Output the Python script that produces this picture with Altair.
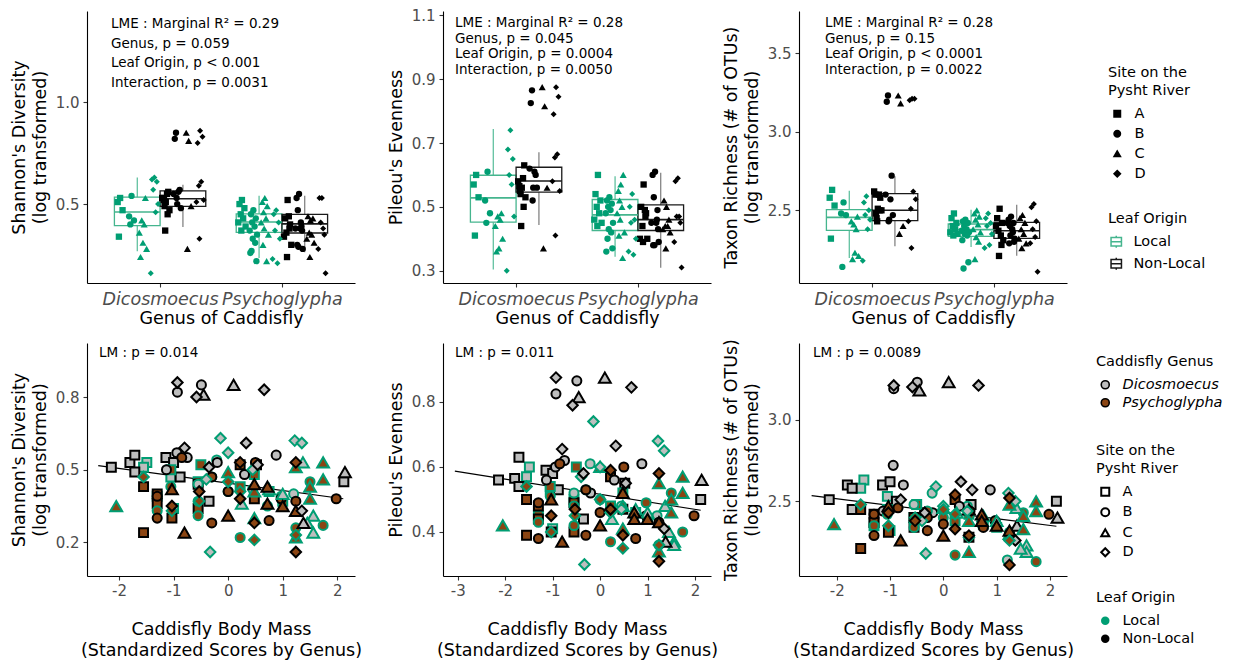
import altair as alt
import pandas as pd

FONT = "DejaVu Sans"

GENERA = ["Dicosmoecus", "Psychoglypha"]
ORIGINS = ["Local", "Non-Local"]
SITES = ["A", "B", "C", "D"]
SITE_SHAPES = ["square", "circle", "triangle-up", "diamond"]

POINT_COLORS = ["#009E73", "#000000"]
BOX_COLORS = ["#45B58E", "#1A1A1A"]
WHISKER_COLORS = ["#45B58E", "#6E6E6E"]
GENUS_FILLS = ["#BEBEBE", "#8B4513"]

# ---------------- samples (genus x leaf origin) ----------------
# Dicosmoecus, Local
DL_site = "AAAABBBBCCCCCCCDDDDDDD"
DL_mass = [-1.49, -1.55, -1.05, -1.00, -0.21, -0.55, 0.45, 1.20, 1.56, 1.56, 1.37, 0.75, 1.00, 0.25, 1.45,
           -0.14, 1.22, 1.35, 0.00, -0.40, -0.33, 0.45]
DL_shan = [0.53, 0.51, 0.47, 0.34, 0.54, 0.44, 0.42, 0.40, 0.31, 0.24, 0.53, 0.42, 0.40, 0.36, 0.28,
           0.63, 0.62, 0.61, 0.57, 0.46, 0.16, 0.50]
DL_even = [0.60, 0.57, 0.53, 0.41, 0.61, 0.52, 0.48, 0.45, 0.37, 0.36, 0.48, 0.47, 0.46, 0.44, 0.40,
           0.74, 0.68, 0.65, 0.60, 0.57, 0.30, 0.47]
DL_rich = [2.63, 2.58, 2.53, 2.32, 2.55, 2.48, 2.47, 2.14, 2.23, 2.19, 2.46, 2.41, 2.38, 2.43, 2.21,
           2.59, 2.55, 2.50, 2.47, 2.38, 2.18, 2.44]

# Dicosmoecus, Non-Local
DN_site = "AAAAAAAAAABBBBBBBBCCCCDDDDDDDD"
DN_mass = [-2.14, -1.80, -1.71, -1.71, -1.14, -1.00, -0.88, -0.35, 2.12, 0.52,
           -1.13, -0.93, -0.94, -0.49, 0.88, -0.75, 0.30, -0.20,
           -0.45, 0.10, 2.14, 1.38,
           -0.93, -0.58, 0.66, -0.80, 0.33, -0.35, 0.54, 1.35]
DN_shan = [0.51, 0.53, 0.56, 0.49, 0.55, 0.53, 0.47, 0.37, 0.45, 0.52,
           0.50, 0.82, 0.57, 0.85, 0.56, 0.55, 0.48, 0.53,
           0.81, 0.85, 0.49, 0.28,
           0.86, 0.80, 0.83, 0.59, 0.61, 0.51, 0.52, 0.33]
DN_even = [0.56, 0.565, 0.63, 0.54, 0.59, 0.58, 0.53, 0.44, 0.50, 0.55,
           0.56, 0.825, 0.60, 0.865, 0.61, 0.62, 0.56, 0.52,
           0.815, 0.875, 0.56, 0.37,
           0.875, 0.79, 0.845, 0.655, 0.665, 0.58, 0.55, 0.41]
DN_rich = [2.51, 2.60, 2.58, 2.45, 2.60, 2.62, 2.50, 2.43, 2.50, 2.48,
           2.44, 3.19, 2.72, 3.23, 2.57, 2.60, 2.47, 2.43,
           3.18, 3.23, 2.40, 2.35,
           3.21, 3.20, 3.21, 2.51, 2.62, 2.43, 2.57, 2.26]

# Psychoglypha, Local
PL_site = "AAAAAAAABBBBBBBBBBBBCCCCCCCCCCDDDDDDD"
PL_mass = [-0.50, -1.05, 0.48, -0.55, 0.22, 0.75, -1.30, 1.00,
           -0.30, 1.50, -1.05, 0.00, 0.97, -0.55, 0.72, -1.30, -0.55, 1.74, 0.22, 1.24,
           1.74, 1.24, 0.00, 1.74, 1.50, 0.48, -2.05, 1.50, 1.24, 0.48,
           -1.55, 0.00, 0.22, -0.53, 0.48, 1.24, -1.03]
PL_shan = [0.52, 0.50, 0.48, 0.45, 0.43, 0.41, 0.39, 0.37,
           0.47, 0.45, 0.43, 0.41, 0.39, 0.37, 0.35, 0.33, 0.31, 0.27, 0.22, 0.26,
           0.53, 0.51, 0.49, 0.46, 0.43, 0.41, 0.35, 0.38, 0.22, 0.30,
           0.47, 0.45, 0.41, 0.37, 0.21, 0.23, 0.33]
PL_even = [0.60, 0.54, 0.52, 0.50, 0.48, 0.46, 0.45, 0.44,
           0.53, 0.52, 0.51, 0.50, 0.49, 0.48, 0.45, 0.43, 0.42, 0.40, 0.37, 0.36,
           0.57, 0.55, 0.60, 0.52, 0.50, 0.48, 0.42, 0.46, 0.34, 0.41,
           0.54, 0.50, 0.46, 0.45, 0.35, 0.36, 0.40]
PL_rich = [2.48, 2.45, 2.42, 2.40, 2.38, 2.36, 2.35, 2.34,
           2.44, 2.43, 2.42, 2.40, 2.38, 2.37, 2.36, 2.35, 2.34, 2.13, 2.17, 2.31,
           2.50, 2.48, 2.46, 2.44, 2.41, 2.38, 2.36, 2.33, 2.30, 2.19,
           2.48, 2.45, 2.42, 2.40, 2.28, 2.26, 2.35]

# Psychoglypha, Non-Local
PN_site = "AAAAAAAAABBBBBBBBBBBCCCCCCCCDDDDDDD"
PN_mass = [0.22, -1.55, -1.30, -1.30, -0.55, -0.55, -1.03, -1.55, 0.48,
           -0.85, 0.50, -1.30, -0.30, 0.97, 1.98, -0.30, 0.75, 0.00, -1.30, 1.24,
           -1.03, 0.48, 0.72, 0.72, 1.00, 1.24, 0.00, -0.80,
           0.22, 1.24, -1.03, -0.53, 0.22, 0.48, 1.24]
PN_shan = [0.52, 0.43, 0.40, 0.36, 0.44, 0.34, 0.30, 0.24, 0.38,
           0.55, 0.53, 0.39, 0.47, 0.38, 0.38, 0.28, 0.29, 0.41, 0.30, 0.37,
           0.42, 0.44, 0.43, 0.36, 0.35, 0.33, 0.31, 0.24,
           0.53, 0.53, 0.35, 0.41, 0.38, 0.28, 0.16]
PN_even = [0.57, 0.50, 0.48, 0.44, 0.49, 0.40, 0.40, 0.39, 0.47,
           0.61, 0.60, 0.49, 0.53, 0.45, 0.45, 0.39, 0.38, 0.46, 0.38, 0.43,
           0.50, 0.52, 0.46, 0.44, 0.44, 0.43, 0.42, 0.37,
           0.59, 0.58, 0.45, 0.47, 0.47, 0.39, 0.31]
PN_rich = [2.51, 2.45, 2.42, 2.37, 2.34, 2.40, 2.31, 2.21, 2.28,
           2.46, 2.44, 2.42, 2.40, 2.38, 2.42, 2.32, 2.34, 2.36, 2.29, 2.30,
           2.47, 2.45, 2.42, 2.38, 2.35, 2.32, 2.29, 2.26,
           2.54, 2.52, 2.43, 2.38, 2.33, 2.29, 2.11]

# ---------------- box statistics (lower whisker, Q1, median, Q3, upper whisker) ----------------
BOX_GENUS = ["Dicosmoecus", "Dicosmoecus", "Psychoglypha", "Psychoglypha"]
BOX_ORIGIN = ["Local", "Non-Local", "Local", "Non-Local"]
SHAN_BOX = [[0.268, 0.394, 0.461, 0.534, 0.631], [0.387, 0.489, 0.526, 0.565, 0.595],
            [0.235, 0.361, 0.412, 0.452, 0.541], [0.263, 0.358, 0.403, 0.449, 0.541]]
EVEN_BOX = [[0.304, 0.452, 0.528, 0.599, 0.744], [0.443, 0.546, 0.581, 0.624, 0.671],
            [0.344, 0.426, 0.475, 0.523, 0.596], [0.309, 0.426, 0.460, 0.506, 0.607]]
RICH_BOX = [[2.197, 2.373, 2.455, 2.504, 2.625], [2.271, 2.434, 2.500, 2.606, 2.716],
            [2.267, 2.335, 2.377, 2.413, 2.504], [2.211, 2.322, 2.370, 2.424, 2.536]]

# ---------------- fitted LM lines (body mass -> metric) ----------------
SHAN_FIT_X = [-2.38, 2.11]
SHAN_FIT_Y = [0.517, 0.380]
EVEN_FIT_X = [-3.06, 2.12]
EVEN_FIT_Y = [0.587, 0.467]
RICH_FIT_X = [-2.47, 2.12]
RICH_FIT_Y = [2.535, 2.347]

METRICS = ["shan", "even", "rich"]
BOXES = [SHAN_BOX, EVEN_BOX, RICH_BOX]
FITS = [(SHAN_FIT_X, SHAN_FIT_Y), (EVEN_FIT_X, EVEN_FIT_Y), (RICH_FIT_X, RICH_FIT_Y)]
Y_TITLES = [["Shannon's Diversity", "(log transformed)"], "Pileou's Evenness",
            ["Taxon Richness (# of OTUs)", "(log transformed)"]]

TOP_YDOM = [[0.1127, 1.4475], [0.2615, 1.1135], [2.038, 3.767]]
TOP_YTICKS = [[0.5, 1.0], [0.3, 0.5, 0.7, 0.9, 1.1], [2.5, 3.0, 3.5]]
BOT_YDOM = [[0.061, 1.023], [0.2646, 0.9815], [2.042, 3.47]]
BOT_YTICKS = [[0.2, 0.5, 0.8], [0.4, 0.6, 0.8], [2.5, 3.0]]
BOT_XDOM = [[-2.586, 2.324], [-3.31, 2.337], [-2.707, 2.319]]
BOT_XTICKS = [[-2, -1, 0, 1, 2], [-3, -2, -1, 0, 1, 2], [-2, -1, 0, 1, 2]]

TOP_NOTES = [
    ["LME :  Marginal R\u00b2 = 0.29", "Genus, p = 0.059", "Leaf Origin, p < 0.001", "Interaction, p = 0.0031"],
    ["LME :  Marginal R\u00b2 = 0.28", "Genus, p = 0.045", "Leaf Origin, p = 0.0004", "Interaction, p = 0.0050"],
    ["LME :  Marginal R\u00b2 = 0.28", "Genus, p = 0.15", "Leaf Origin, p < 0.0001", "Interaction, p = 0.0022"],
]
BOT_NOTES = ["LM :  p = 0.014", "LM :  p = 0.011", "LM :  p = 0.0089"]

# layout-only settings
TOP_NOTE_X = [24, 12, 26]
TOP_NOTE_Y = [6, 5, 5]
TOP_NOTE_LH = [19.5, 15.5, 15.5]
BOT_NOTE_X = [12, 12, 14]
BOT_NOTE_Y = 3
W, H_TOP, H_BOT = 268, 272, 233
BOX_W = 0.375
SITE_W = 0.09375
JIT = [0.0, -0.02, 0.02, -0.01, 0.01, -0.03, 0.03, -0.005, 0.015, -0.015, 0.025, -0.025]
BOX_GLYPH = "M-0.85,-0.7H0.85V0.7H-0.85Z M-0.85,0H0.85 M0,-1V-0.7 M0,0.7V1"
TOP_SIZES = {"A": 40, "B": 40, "C": 50, "D": 36}
BOT_SIZES = {"A": 80, "B": 82, "C": 140, "D": 110}

# ---------------- assemble tables ----------------
groups = [
    ("Dicosmoecus", "Local", DL_site, DL_mass, DL_shan, DL_even, DL_rich),
    ("Dicosmoecus", "Non-Local", DN_site, DN_mass, DN_shan, DN_even, DN_rich),
    ("Psychoglypha", "Local", PL_site, PL_mass, PL_shan, PL_even, PL_rich),
    ("Psychoglypha", "Non-Local", PN_site, PN_mass, PN_shan, PN_even, PN_rich),
]
rows = []
for genus, origin, site, mass, sh, ev, ri in groups:
    gi = GENERA.index(genus) + 1
    oi = ORIGINS.index(origin)
    counter = {s: 0 for s in SITES}
    for s, m, a, b, c in zip(site, mass, sh, ev, ri):
        si = SITES.index(s)
        j = JIT[counter[s] % len(JIT)]
        counter[s] += 1
        xpos = gi + (oi - 0.5) * BOX_W + (si - 1.5) * SITE_W + j
        rows.append(dict(genus=genus, origin=origin, site=s, mass=m, shan=a, even=b, rich=c, xpos=xpos))
pts = pd.DataFrame(rows)


def box_frame(stats):
    recs = []
    for g, o, st in zip(BOX_GENUS, BOX_ORIGIN, stats):
        xc = GENERA.index(g) + 1 + (ORIGINS.index(o) - 0.5) * BOX_W
        recs.append(dict(genus=g, origin=o, lo=st[0], q1=st[1], med=st[2], q3=st[3], hi=st[4],
                         xc=xc, x1=xc - BOX_W / 2, x2=xc + BOX_W / 2))
    return pd.DataFrame(recs)


GENUS_LABEL_EXPR = "[" + ",".join("'%s'" % g for g in GENERA) + "][datum.value - 1]"

LEG_COMMON = dict(orient="none", titleFont=FONT, labelFont=FONT, titleFontSize=14.5, labelFontSize=14.5,
                  titleFontWeight="normal", titleColor="black", labelColor="black", titleLineHeight=18,
                  titlePadding=8, labelOffset=10)


def top_panel(i, legends):
    metric = METRICS[i]
    bdf = box_frame(BOXES[i])
    xs = alt.Scale(domain=[0.4, 2.6], nice=False, zero=False)
    xa = alt.Axis(values=[1, 2], labelExpr=GENUS_LABEL_EXPR, labelFontStyle="italic", labelFontSize=17.5,
                  title="Genus of Caddisfly", labelOverlap=False, labelFlush=False, labelPadding=3, titlePadding=2)
    ys = alt.Scale(domain=TOP_YDOM[i], nice=False, zero=False)
    ya = alt.Axis(values=TOP_YTICKS[i], format=".1f", title=Y_TITLES[i], labelFlush=False)

    def X(f):
        return alt.X(f + ":Q", scale=xs, axis=xa)

    def Y(f):
        return alt.Y(f + ":Q", scale=ys, axis=ya)

    wstroke = alt.Stroke("origin:N", scale=alt.Scale(domain=ORIGINS, range=WHISKER_COLORS), legend=None)
    whisk_lo = alt.Chart(bdf).mark_rule(strokeWidth=1.1).encode(x=X("xc"), y=Y("lo"), y2="q1:Q", stroke=wstroke)
    whisk_hi = alt.Chart(bdf).mark_rule(strokeWidth=1.1).encode(x=X("xc"), y=Y("q3"), y2="hi:Q", stroke=wstroke)
    if legends:
        box_leg = alt.Legend(title="Leaf Origin", legendX=309, legendY=201, symbolType=BOX_GLYPH,
                             symbolSize=150, symbolStrokeWidth=1.5, symbolFillColor="transparent",
                             symbolOffset=1, rowPadding=3, **LEG_COMMON)
        shape_leg = alt.Legend(title=["Site on the", " Pysht River"], legendX=309, legendY=55,
                               symbolFillColor="black", symbolStrokeColor="black", symbolSize=42,
                               symbolOffset=2, rowPadding=5, **LEG_COMMON)
    else:
        box_leg = None
        shape_leg = None
    box = alt.Chart(bdf).mark_rect(fill="transparent", strokeWidth=1.3).encode(
        x=X("x1"), x2="x2:Q", y=Y("q1"), y2="q3:Q",
        stroke=alt.Stroke("origin:N", scale=alt.Scale(domain=ORIGINS, range=BOX_COLORS), legend=box_leg))
    median = alt.Chart(bdf).mark_rule(strokeWidth=1.6).encode(
        x=X("x1"), x2="x2:Q", y=Y("med"),
        stroke=alt.Stroke("origin:N", scale=alt.Scale(domain=ORIGINS, range=BOX_COLORS), legend=None))

    def pts_layer(site):
        return alt.Chart(pts).transform_filter(alt.datum.site == site).mark_point(
            filled=True, opacity=1, size=TOP_SIZES[site]).encode(
            x=X("xpos"), y=Y(metric),
            color=alt.Color("origin:N", scale=alt.Scale(domain=ORIGINS, range=POINT_COLORS), legend=None),
            shape=alt.Shape("site:N", scale=alt.Scale(domain=SITES, range=SITE_SHAPES), legend=shape_leg))

    note = alt.Chart(pd.DataFrame({"note": ["\n".join(TOP_NOTES[i])]})).mark_text(
        align="left", baseline="top", lineBreak="\n", lineHeight=TOP_NOTE_LH[i], fontSize=13.5,
        font=FONT, color="black").encode(
        x=alt.value(TOP_NOTE_X[i]), y=alt.value(TOP_NOTE_Y[i]), text="note:N")
    layers = [whisk_lo, whisk_hi, box, median] + [pts_layer(s) for s in SITES] + [note]
    return alt.layer(*layers).resolve_scale(stroke="independent").resolve_legend(
        stroke="independent").properties(width=W, height=H_TOP)


def bottom_panel(i, legends):
    metric = METRICS[i]
    xs = alt.Scale(domain=BOT_XDOM[i], nice=False, zero=False)
    xa = alt.Axis(values=BOT_XTICKS[i], labelExpr="'' + datum.value", labelFlush=False, labelOverlap=False,
                  title=["Caddisfly Body Mass", "(Standardized Scores by Genus)"], labelPadding=3,
                  titlePadding=22)
    ys = alt.Scale(domain=BOT_YDOM[i], nice=False, zero=False)
    ya = alt.Axis(values=BOT_YTICKS[i], format=".1f", title=Y_TITLES[i], labelFlush=False)

    def X(f):
        return alt.X(f + ":Q", scale=xs, axis=xa)

    def Y(f):
        return alt.Y(f + ":Q", scale=ys, axis=ya)

    fx, fy = FITS[i]
    line = alt.Chart(pd.DataFrame({"mass": fx, "fit": fy})).mark_line(color="black", strokeWidth=1.2).encode(
        x=X("mass"), y=Y("fit"))
    if legends:
        genus_leg = alt.Legend(title="Caddisfly Genus", legendX=297, legendY=12, labelFontStyle="italic",
                               symbolType="circle", symbolStrokeColor="black", symbolStrokeWidth=1.6,
                               symbolSize=64, symbolOffset=2, rowPadding=2, **LEG_COMMON)
        site_leg = alt.Legend(title=["Site on the", "Pysht River"], legendX=297, legendY=101,
                              symbolFillColor="white", symbolStrokeColor="black", symbolStrokeWidth=2,
                              symbolSize=64, symbolOffset=2, rowPadding=3.5, **LEG_COMMON)
        origin_leg = alt.Legend(title="Leaf Origin", legendX=297, legendY=248, symbolType="circle",
                                symbolSize=72, symbolStrokeWidth=0, symbolOffset=2, rowPadding=3,
                                symbolOpacity=1, **LEG_COMMON)
    else:
        genus_leg = None
        site_leg = None
        origin_leg = None

    def pts_layer(site):
        return alt.Chart(pts).transform_filter(alt.datum.site == site).mark_point(
            filled=True, opacity=1, strokeWidth=2, size=BOT_SIZES[site]).encode(
            x=X("mass"), y=Y(metric),
            fill=alt.Fill("genus:N", scale=alt.Scale(domain=GENERA, range=GENUS_FILLS), legend=genus_leg),
            stroke=alt.Stroke("origin:N", scale=alt.Scale(domain=ORIGINS, range=POINT_COLORS), legend=None),
            shape=alt.Shape("site:N", scale=alt.Scale(domain=SITES, range=SITE_SHAPES), legend=site_leg))

    layers = [line] + [pts_layer(s) for s in SITES]
    if legends:
        key = alt.Chart(pts).transform_filter("false").mark_point(filled=True, opacity=1).encode(
            x=X("mass"), y=Y(metric),
            color=alt.Color("origin:N", scale=alt.Scale(domain=ORIGINS, range=POINT_COLORS), legend=origin_leg))
        layers.append(key)
    note = alt.Chart(pd.DataFrame({"note": [BOT_NOTES[i]]})).mark_text(
        align="left", baseline="top", fontSize=13.5, font=FONT, color="black").encode(
        x=alt.value(BOT_NOTE_X[i]), y=alt.value(BOT_NOTE_Y), text="note:N")
    layers.append(note)
    return alt.layer(*layers).resolve_scale(stroke="independent").resolve_legend(
        stroke="independent").properties(width=W, height=H_BOT)


panels = [top_panel(0, False), top_panel(1, False), top_panel(2, True),
          bottom_panel(0, False), bottom_panel(1, False), bottom_panel(2, True)]

chart = alt.concat(*panels, columns=3, spacing={"row": 60, "column": 88}, bounds="flush",
                   padding={"left": 2, "top": 0, "right": 5, "bottom": 5},
                   background="white").resolve_scale(
    color="independent", fill="independent", stroke="independent", shape="independent"
).resolve_legend(
    color="independent", fill="independent", stroke="independent", shape="independent"
).configure_view(strokeWidth=0).configure_axis(
    labelFont=FONT, titleFont=FONT, labelFontSize=15, titleFontSize=17.5, titleFontWeight="normal",
    labelColor="#4D4D4D", titleColor="black", domainColor="black", domainWidth=1.1, tickColor="#333333",
    tickWidth=1.1, tickSize=4, labelPadding=4, titlePadding=6, grid=False, titleLineHeight=21
)

chart.save("out.html", embed_options={"renderer": "svg", "actions": False})
